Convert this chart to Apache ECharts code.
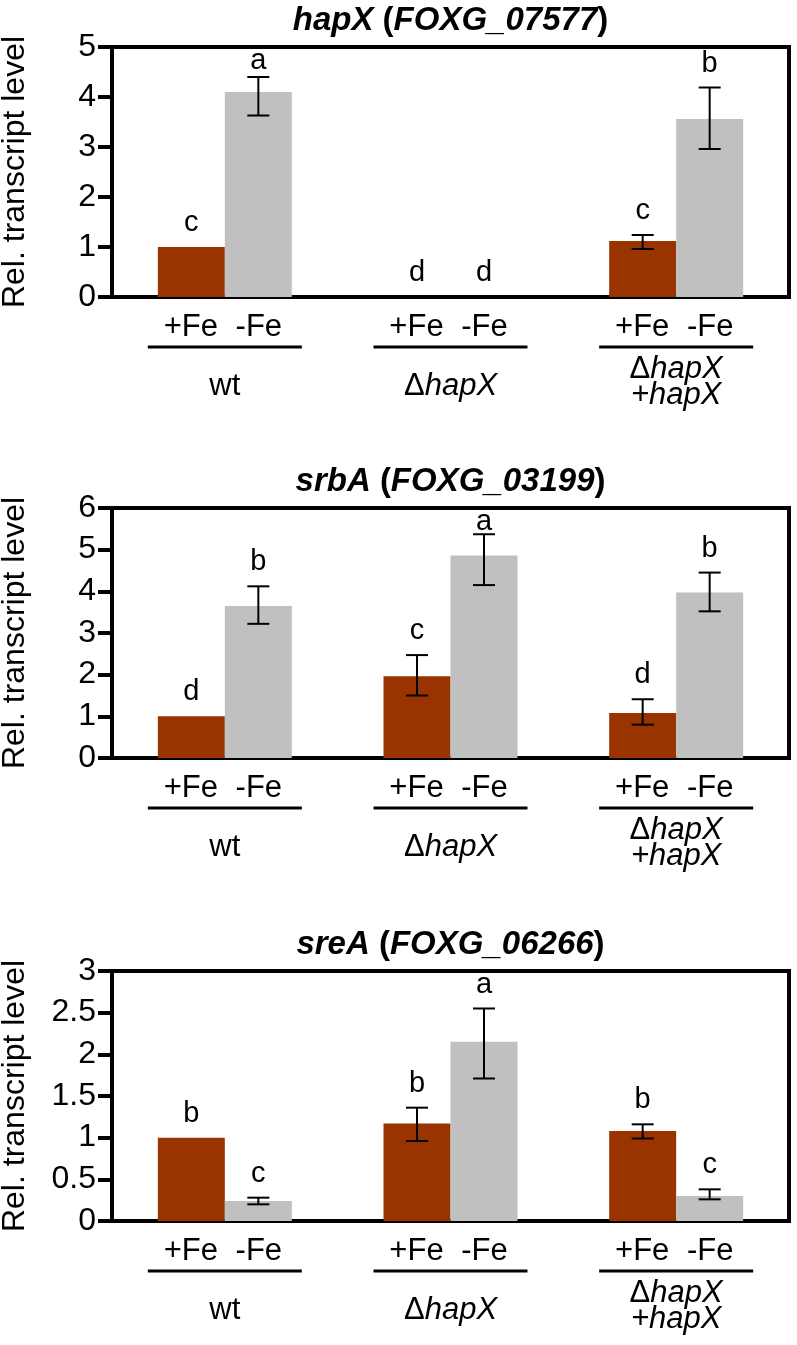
<!DOCTYPE html>
<html>
<head>
<meta charset="utf-8">
<style>
  html, body { margin: 0; padding: 0; background: #fff; }
  #chart { width: 797px; height: 1345px; }
</style>
<script src="https://cdn.jsdelivr.net/npm/echarts@6/dist/echarts.min.js"></script>
</head>
<body>
<div id="chart"></div>
<script>
// ---------------- DATA ----------------
const groups = ['wt', 'ΔhapX', 'ΔhapX +hapX'];
const conditions = ['+Fe', '-Fe'];

const geneNames = ['hapX', 'srbA', 'sreA'];
const geneIds = ['FOXG_07577', 'FOXG_03199', 'FOXG_06266'];

const yMax = [5, 6, 3];
const yInterval = [1, 1, 0.5];

// hapX (FOXG_07577)
const hapX_plusFe = [1.0, 0, 1.12];
const hapX_minusFe = [4.1, 0, 3.56];
const hapX_plusFe_errLow = [null, null, 0.96];
const hapX_plusFe_errHigh = [null, null, 1.24];
const hapX_minusFe_errLow = [3.63, null, 2.96];
const hapX_minusFe_errHigh = [4.40, null, 4.19];
const hapX_plusFe_letters = ['c', 'd', 'c'];
const hapX_minusFe_letters = ['a', 'd', 'b'];

// srbA (FOXG_03199)
const srbA_plusFe = [1.0, 1.96, 1.08];
const srbA_minusFe = [3.65, 4.86, 3.97];
const srbA_plusFe_errLow = [null, 1.50, 0.80];
const srbA_plusFe_errHigh = [null, 2.47, 1.41];
const srbA_minusFe_errLow = [3.22, 4.15, 3.52];
const srbA_minusFe_errHigh = [4.12, 5.37, 4.45];
const srbA_plusFe_letters = ['d', 'c', 'd'];
const srbA_minusFe_letters = ['b', 'a', 'b'];

// sreA (FOXG_06266)
const sreA_plusFe = [1.0, 1.17, 1.08];
const sreA_minusFe = [0.24, 2.15, 0.30];
const sreA_plusFe_errLow = [null, 0.96, 0.99];
const sreA_plusFe_errHigh = [null, 1.36, 1.16];
const sreA_minusFe_errLow = [0.20, 1.71, 0.26];
const sreA_minusFe_errHigh = [0.28, 2.55, 0.38];
const sreA_plusFe_letters = ['b', 'b', 'b'];
const sreA_minusFe_letters = ['c', 'a', 'c'];

// ---------------- STYLE ----------------
const FONT = '"Liberation Sans", Arial, Helvetica, sans-serif';
const COLORS = ['#993300', '#c0c0c0'];
const BAR_W = 67;
const GRID_TOPS = [47, 508, 971];
const GRID_H = 250;
const GRID_LEFT = 112;
const GRID_RIGHT = 8;

const panels = [
  { values: [hapX_plusFe, hapX_minusFe], lo: [hapX_plusFe_errLow, hapX_minusFe_errLow], hi: [hapX_plusFe_errHigh, hapX_minusFe_errHigh], letters: [hapX_plusFe_letters, hapX_minusFe_letters] },
  { values: [srbA_plusFe, srbA_minusFe], lo: [srbA_plusFe_errLow, srbA_minusFe_errLow], hi: [srbA_plusFe_errHigh, srbA_minusFe_errHigh], letters: [srbA_plusFe_letters, srbA_minusFe_letters] },
  { values: [sreA_plusFe, sreA_minusFe], lo: [sreA_plusFe_errLow, sreA_minusFe_errLow], hi: [sreA_plusFe_errHigh, sreA_minusFe_errHigh], letters: [sreA_plusFe_letters, sreA_minusFe_letters] }
];

function groupLabel(name, idx) {
  const top = '{fe|' + conditions[0] + '}{gap|}{fe|' + conditions[1] + '}\n{ul| }\n';
  if (idx === 2) {
    return top + '{ca|Δ}{cai|hapX}\n{cbi|+hapX}';
  }
  if (name.charAt(0) === 'Δ') {
    return top + '{s|Δ}{si|' + name.slice(1) + '}';
  }
  return top + '{s|' + name + '}';
}

const LF = 31;
const labelRich = {
  fe: { fontSize: LF, fontFamily: FONT, color: '#000', width: 60, align: 'center', lineHeight: 32 },
  gap: { width: 8, lineHeight: 32 },
  ul: { width: 154, height: 3, backgroundColor: '#000', lineHeight: 8, fontSize: 2 },
  s: { fontSize: LF, fontFamily: FONT, color: '#000', lineHeight: 70 },
  si: { fontSize: LF, fontFamily: FONT, color: '#000', lineHeight: 70, fontStyle: 'italic' },
  ca: { fontSize: LF, fontFamily: FONT, color: '#000', lineHeight: 36 },
  cai: { fontSize: LF, fontFamily: FONT, color: '#000', lineHeight: 36, fontStyle: 'italic' },
  cbi: { fontSize: LF, fontFamily: FONT, color: '#000', lineHeight: 16, fontStyle: 'italic' }
};

function makeRender(panel, cond) {
  return function (params, api) {
    const i = params.dataIndex;
    const off = cond === 0 ? -BAR_W / 2 : BAR_W / 2;
    const base = api.coord([i, api.value(1)]);
    const x = base[0] + off;
    let topY = base[1];
    const children = [];
    const lo = panel.lo[cond][i], hi = panel.hi[cond][i];
    const ls = { stroke: '#000', lineWidth: 2 };
    if (hi != null) {
      const yl = api.coord([i, lo])[1];
      const yh = api.coord([i, hi])[1];
      children.push({ type: 'line', shape: { x1: x, y1: yl, x2: x, y2: yh }, style: ls });
      children.push({ type: 'line', shape: { x1: x - 11, y1: yh, x2: x + 11, y2: yh }, style: ls });
      children.push({ type: 'line', shape: { x1: x - 11, y1: yl, x2: x + 11, y2: yl }, style: ls });
      topY = Math.min(topY, yh);
    }
    const gridTop = params.coordSys.y;
    const ty = Math.max(topY - 24, gridTop + 14);
    children.push({
      type: 'text',
      style: { text: panel.letters[cond][i], x: x, y: ty, align: 'center', verticalAlign: 'middle', fontSize: 29, fontFamily: FONT, fill: '#000' }
    });
    return { type: 'group', children: children };
  };
}

const grid = [], xAxis = [], yAxis = [], series = [], graphic = [];
panels.forEach(function (panel, p) {
  grid.push({
    left: GRID_LEFT, right: GRID_RIGHT, top: GRID_TOPS[p], height: GRID_H,
    containLabel: false, outerBoundsMode: 'none',
    show: true, borderColor: '#000', borderWidth: 4, backgroundColor: 'transparent'
  });
  xAxis.push({
    type: 'category', gridIndex: p, data: groups,
    axisLine: { lineStyle: { color: '#000', width: 4 } },
    axisTick: { length: 12, lineStyle: { color: '#000', width: 4 } },
    axisLabel: { margin: 14, interval: 0, formatter: groupLabel, rich: labelRich, color: '#000' },
    splitLine: { show: false }
  });
  yAxis.push({
    type: 'value', gridIndex: p, min: 0, max: yMax[p], interval: yInterval[p],
    name: 'Rel. transcript level', nameLocation: 'middle', nameGap: 81,
    nameTextStyle: { fontSize: 32, fontFamily: FONT, color: '#000' },
    axisLine: { show: true, lineStyle: { color: '#000', width: 4 } },
    axisTick: { show: true, length: 14, lineStyle: { color: '#000', width: 4 } },
    axisLabel: { fontSize: 32, fontFamily: FONT, color: '#000', margin: 16 },
    splitLine: { show: false }
  });
  [0, 1].forEach(function (c) {
    series.push({
      type: 'bar', name: conditions[c], xAxisIndex: p, yAxisIndex: p,
      data: panel.values[c], barWidth: BAR_W, barGap: '0%',
      itemStyle: { color: COLORS[c] }, silent: true, z: 2
    });
  });
  [0, 1].forEach(function (c) {
    series.push({
      type: 'custom', xAxisIndex: p, yAxisIndex: p, z: 5, silent: true,
      data: panel.values[c].map(function (v, i) { return [i, v]; }),
      renderItem: makeRender(panel, c)
    });
  });
  graphic.push({
    type: 'text', x: GRID_LEFT + (797 - GRID_LEFT - GRID_RIGHT) / 2, y: GRID_TOPS[p] - 26,
    style: {
      text: '{bi|' + geneNames[p] + '}{b| (}{bi|' + geneIds[p] + '}{b|)}',
      align: 'center', verticalAlign: 'middle',
      rich: {
        bi: { fontSize: 33, fontWeight: 'bold', fontStyle: 'italic', fontFamily: FONT, fill: '#000' },
        b: { fontSize: 33, fontWeight: 'bold', fontFamily: FONT, fill: '#000' }
      }
    }
  });
});

const chart = echarts.init(document.getElementById('chart'), null, { renderer: 'canvas' });
chart.setOption({
  animation: false,
  backgroundColor: '#fff',
  grid: grid, xAxis: xAxis, yAxis: yAxis, series: series, graphic: graphic
});
</script>
</body>
</html>
